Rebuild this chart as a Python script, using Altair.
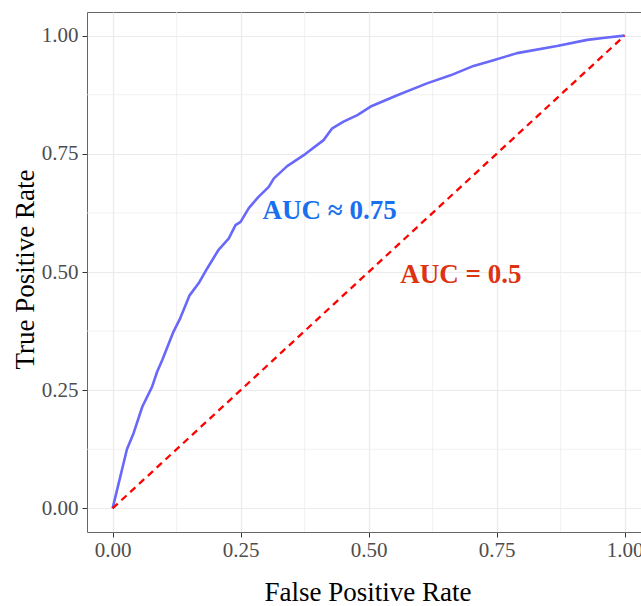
import altair as alt
import pandas as pd

# ROC curve points
fpr = [0.0, 0.028, 0.041, 0.058, 0.077, 0.087, 0.097, 0.119, 0.132, 0.150, 0.168,
       0.185, 0.207, 0.227, 0.240, 0.250, 0.266, 0.285, 0.305, 0.315, 0.341,
       0.377, 0.412, 0.429, 0.451, 0.478, 0.504, 0.556, 0.614, 0.660, 0.705,
       0.744, 0.790, 0.868, 0.927, 0.966, 1.0]
tpr = [0.0, 0.125, 0.159, 0.215, 0.257, 0.289, 0.314, 0.374, 0.402, 0.450, 0.476,
       0.508, 0.547, 0.571, 0.599, 0.606, 0.635, 0.659, 0.680, 0.698, 0.724,
       0.750, 0.779, 0.804, 0.818, 0.832, 0.850, 0.874, 0.899, 0.916, 0.936,
       0.948, 0.963, 0.978, 0.991, 0.996, 1.0]

diag_x = [0.0, 1.0]
diag_y = [0.0, 1.0]

major_ticks = [0.0, 0.25, 0.5, 0.75, 1.0]
minor_ticks = [0.125, 0.375, 0.625, 0.875]

labels = ["AUC ≈ 0.75", "AUC = 0.5"]
label_x = [0.293, 0.562]
label_y = [0.6115, 0.476]
label_color = ["#1A6FEF", "#DD3311"]

FONT = "Liberation Serif"

curve_df = pd.DataFrame({"x": fpr, "y": tpr})
diag_df = pd.DataFrame({"x": diag_x, "y": diag_y})
minor_df = pd.DataFrame({"v": minor_ticks})
text_df = pd.DataFrame({"x": label_x, "y": label_y, "t": labels, "c": label_color})

xscale = alt.Scale(domain=[-0.05, -0.05 + 554 / 512], nice=False, zero=False)
yscale = alt.Scale(domain=[-0.05, 1.05], nice=False, zero=False)

xaxis = alt.Axis(values=major_ticks, format=".2f", title="False Positive Rate",
                 grid=True, gridColor="#EBEBEB", gridWidth=1.2,
                 domain=False, tickColor="#333333", tickSize=5, tickWidth=1,
                 labelFont=FONT, labelFontSize=21, labelColor="#4D4D4D", labelPadding=2,
                 labelFlush=False, labelOverlap=False,
                 titleFont=FONT, titleFontSize=27, titleFontWeight="normal", titleColor="#000000",
                 titleX=280.5, titleY=68, titleBaseline="alphabetic", titleAnchor="start",
                 titleAlign="center")
yaxis = alt.Axis(values=major_ticks, format=".2f", title="True Positive Rate",
                 grid=True, gridColor="#EBEBEB", gridWidth=1.2,
                 domain=False, tickColor="#333333", tickSize=5, tickWidth=1,
                 labelFont=FONT, labelFontSize=21, labelColor="#4D4D4D", labelPadding=4,
                 labelFlush=False, labelOverlap=False,
                 titleFont=FONT, titleFontSize=27, titleFontWeight="normal", titleColor="#000000",
                 titleX=-54, titleY=257, titleBaseline="alphabetic", titleAlign="center",
                 titleAngle=270)

X = alt.X("x:Q", scale=xscale, axis=xaxis)
Y = alt.Y("y:Q", scale=yscale, axis=yaxis)

vminor = alt.Chart(minor_df).mark_rule(color="#EBEBEB", strokeWidth=0.7).encode(
    x=alt.X("v:Q", scale=xscale, axis=xaxis))
hminor = alt.Chart(minor_df).mark_rule(color="#EBEBEB", strokeWidth=0.7).encode(
    y=alt.Y("v:Q", scale=yscale, axis=yaxis))

diag = alt.Chart(diag_df).mark_line(color="#FF0000", strokeWidth=2.3,
                                    strokeDash=[7, 5]).encode(x=X, y=Y)
curve = alt.Chart(curve_df).mark_line(color="#6868FA", strokeWidth=2.6,
                                      strokeJoin="round").encode(x=X, y=Y, order=alt.Order("x:Q"))
text = alt.Chart(text_df).mark_text(font=FONT, fontSize=27, fontWeight="bold",
                                    align="left", baseline="alphabetic").encode(
    x=X, y=Y, text="t:N", color=alt.Color("c:N", scale=None))

chart = alt.layer(vminor, hminor, curve, diag, text).properties(
    width=554, height=520,
    autosize=alt.AutoSizeParams(type="none"),
    padding={"left": 87, "top": 12, "right": 0, "bottom": 74},
    background="white",
).configure_view(stroke="#666666", strokeWidth=1)

chart.save("out.html", embed_options={"renderer": "svg", "actions": False})
